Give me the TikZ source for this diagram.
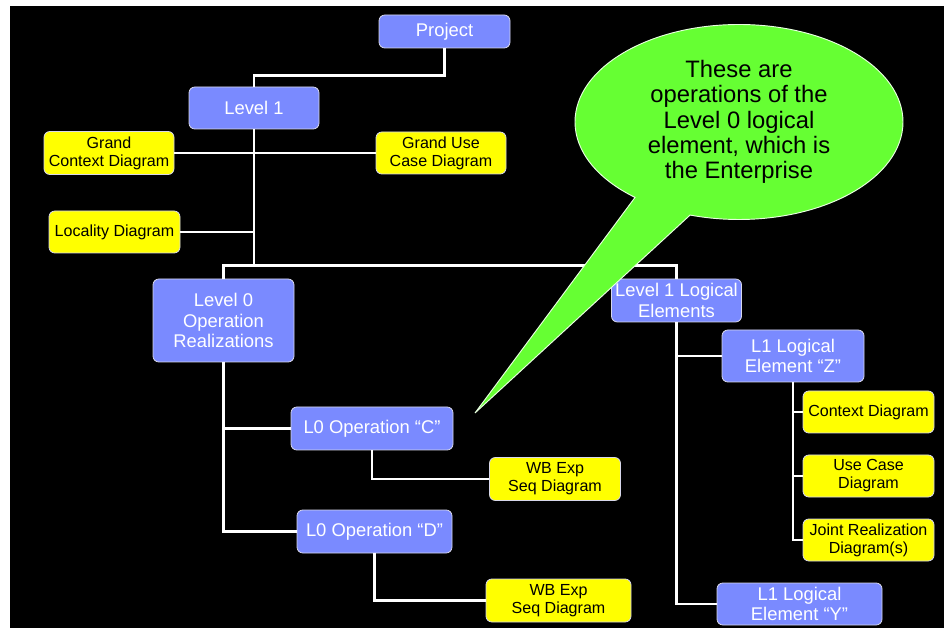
\documentclass[tikz,border=0pt]{standalone}
\usepackage{fontspec}
\setmainfont{Liberation Sans}
\usepackage{tikz}
\usetikzlibrary{calc,positioning,shapes.callouts}
\definecolor{boxblue}{RGB}{122,138,255}
\definecolor{boxyellow}{RGB}{255,255,0}
\definecolor{notegreen}{RGB}{102,255,51}
\definecolor{boxedge}{RGB}{215,215,235}
\tikzstyle{every path}=[line join=miter]
\tikzstyle{box}=[rectangle,rounded corners=5pt,inner sep=0pt,align=center,draw=boxedge,line width=0.7pt]
\tikzstyle{blue box}=[box,fill=boxblue,text=white,font=\fontsize{15.7}{17.4}\selectfont]
\tikzstyle{yellow box}=[box,fill=boxyellow,text=black,font=\fontsize{13.7}{15.3}\selectfont]
\tikzstyle{treeline}=[draw=white,line width=2pt]

\begin{document}
\begin{tikzpicture}[x=0.03cm,y=-0.03cm]
\def\u{0.03cm}

	% Background
    \fill[white] (0,0) rectangle (944,628);
    \fill[black] (10,6) rectangle (944,628);
    \useasboundingbox (0,0) rectangle (944,628);

	% Top of the tree
    \node[blue box, minimum width=131*\u, minimum height=33*\u] (Project) at (444.5,31.5) {Project};
    \node[blue box, minimum width=130*\u, minimum height=42*\u] (L1) at (254,108) {Level 1};
    \node[yellow box, minimum width=130*\u, minimum height=43*\u] (GCD) at (109,153) {Grand\\Context Diagram};
    \node[yellow box, minimum width=130*\u, minimum height=42*\u] (GUC) at (441,153) {Grand Use\\Case Diagram};
    \node[yellow box, minimum width=131*\u, minimum height=42*\u] (LOC) at (114.5,232) {Locality Diagram};
    \coordinate (J0) at (254,266);

	% Level 0 branch
    \node[blue box, minimum width=141*\u, minimum height=83*\u] (L0) at (223.5,320.5) {Level 0\\Operation\\Realizations};
    \node[blue box, minimum width=162*\u, minimum height=43*\u] (OpC) at (372,428.5) {L0 Operation ``C''};
    \node[blue box, minimum width=155*\u, minimum height=43*\u] (OpD) at (374.5,531.5) {L0 Operation ``D''};
    \node[yellow box, minimum width=131*\u, minimum height=43*\u] (WB-1) at (555,479) {WB Exp\\Seq Diagram};
    \node[yellow box, minimum width=145*\u, minimum height=43*\u] (WB-2) at (558.5,600.5) {WB Exp\\Seq Diagram};

	% Level 1 logical branch
    \node[blue box, minimum width=130*\u, minimum height=43*\u] (L1L) at (676.5,300.5) {Level 1 Logical\\Elements};
    \node[blue box, minimum width=142*\u, minimum height=52*\u] (EZ) at (793,356) {L1 Logical\\Element ``Z''};
    \node[blue box, minimum width=165*\u, minimum height=42*\u] (EY) at (799.5,604) {L1 Logical\\Element ``Y''};
    \foreach \name / \y / \txt in {1/412/{Context Diagram},2/476/{Use Case\\Diagram},3/540/{Joint Realization\\Diagram(s)}}
        \node[yellow box, minimum width=131*\u, minimum height=42*\u] (ZD-\name) at (868.5,\y) {\txt};

	% Connectors
    \draw[treeline] (Project.south) -- ++(0,27) -| (L1.north);
    \draw[treeline] (L1.south) -- (J0);
    \draw[treeline] (GCD.east) -- (GUC.west);
    \draw[treeline] (LOC.east) -- (LOC.east -| J0);
    \draw[treeline] (L0.north) -- ++(0,-13) -| (L1L.north);

    \foreach \dest in {OpC,OpD}
        \draw[treeline] (L0.south) |- (\dest.west);
    \draw[treeline] (OpC.south) |- (WB-1.west);
    \draw[treeline] (OpD.south) |- (WB-2.west);

    \foreach \dest in {EZ,EY}
        \draw[treeline] (L1L.south) |- (\dest.west);
    \foreach \dest in {1,...,3}
        \draw[treeline] (EZ.south) |- (ZD-\dest.west);

	% Callout
    \node[ellipse callout, fill=notegreen, draw=white!85!notegreen, line width=0.8pt,
          minimum width=328*\u, minimum height=195*\u, inner sep=0pt,
          callout absolute pointer={(475,413)}, callout pointer arc=22,
          align=center, font=\fontsize{20.3}{21.6}\selectfont] (Note) at (739,122)
          {These are\\operations of the\\Level 0 logical\\element, which is\\the Enterprise};

\end{tikzpicture}
\end{document}
